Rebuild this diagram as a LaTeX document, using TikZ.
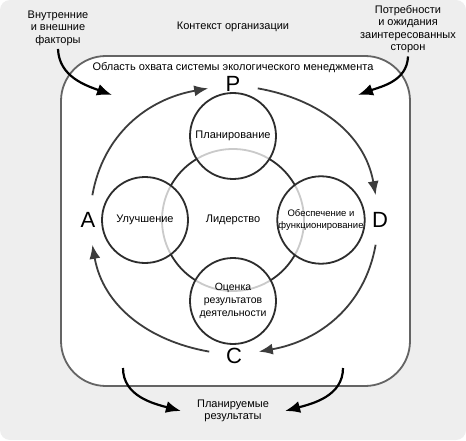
\documentclass[tikz,border=0pt]{standalone}
\usepackage{fontspec}
\setmainfont{Liberation Sans}
\usetikzlibrary{arrows.meta}
\definecolor{bggray}{RGB}{238,238,238}
\definecolor{framegray}{RGB}{100,100,100}
\definecolor{ringblack}{RGB}{45,45,45}
\definecolor{cyclegray}{RGB}{60,60,60}

\begin{document}
\begin{tikzpicture}[x=1pt,y=1pt,
  stage/.style={circle,draw=ringblack,line width=1.8pt,fill=white,fill opacity=0.75,
    text opacity=1,minimum size=86pt,inner sep=0pt,align=center,
    font=\fontsize{11}{12.5}\selectfont},
  letter/.style={circle,minimum size=50pt,inner sep=0pt,font=\fontsize{22}{22}\selectfont},
  txt/.style={align=center,font=\fontsize{11}{12.5}\selectfont},
  cyclearrow/.style={draw=cyclegray,line width=1.8pt,-{Latex[length=14pt,width=11pt]}},
  outarrow/.style={draw=black,line width=2.2pt,-{Latex[length=15pt,width=12pt]}}]
  \useasboundingbox (0,0) rectangle (466,440);
  \fill[white] (0,0) rectangle (466,440);
  \fill[bggray,rounded corners=10pt] (0,0) rectangle (466,440);
  \filldraw[fill=white,draw=framegray,line width=1.8pt,rounded corners=45pt] (61,54) rectangle (410,384);

  % texts outside the scope
  \node[txt] (context) at (233,413) {Контекст организации};
  \node[txt] (factors) at (58,412) {Внутренние\\и внешние\\факторы};
  \node[txt] (needs) at (408,411) {Потребности\\и ожидания\\заинтересованных\\сторон};
  \node[txt,inner xsep=16pt] (result) at (233,29) {Планируемые\\результаты};
  \node[txt] (scope) at (233,372) {Область охвата системы экологического менеджмента};

  % PDCA letters
  \node[letter] (P) at (233,356) {P};
  \node[letter] (A) at (88,220) {A};
  \node[letter] (D) at (380,220) {D};
  \node[letter] (C) at (234,84) {C};

  % circles
  \node[circle,draw=ringblack,line width=1.8pt,minimum size=142pt,txt] (lead) at (233,220) {Лидерство};
  \node[stage] (plan) at (233,304) {Планирование};
  \node[stage] (improve) at (145,220) {Улучшение};
  \node[stage,font=\fontsize{9.5}{11.5}\selectfont] (support) at (321,220) {Обеспечение и\\функционирование};
  \node[stage,font=\fontsize{10.5}{13}\selectfont] (eval) at (233,139) {Оценка\\результатов\\деятельности};

  \draw[cyclearrow] (A) to[out=80,in=190] (P);
  \draw[cyclearrow] (P) to[out=-10,in=100] (D);
  \draw[cyclearrow] (D) to[out=-100,in=10] (C);
  \draw[cyclearrow] (C) to[out=170,in=-80] (A);

  \coordinate (factin) at (112,345);
  \coordinate (needin) at (358,345);
  \coordinate (resl) at (123,72);
  \coordinate (resr) at (343,72);
  \draw[outarrow] (factors.south) to[out=-88,in=160] (factin);
  \draw[outarrow] (needs.south) to[out=-92,in=20] (needin);
  \draw[outarrow] (resl) to[out=-90,in=165] (result.west);
  \draw[outarrow] (resr) to[out=-90,in=15] (result.east);
\end{tikzpicture}
\end{document}
